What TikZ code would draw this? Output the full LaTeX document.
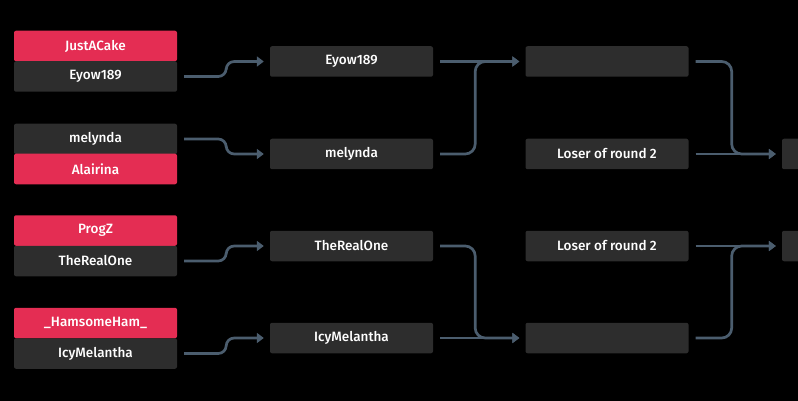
\documentclass[tikz,border=0pt]{standalone}
\usepackage{fontspec}
\setmainfont{Fira Sans}[UprightFont=* Medium]
\usetikzlibrary{arrows.meta,calc}
\definecolor{bgc}{RGB}{0,0,0}
\definecolor{redc}{RGB}{228,45,83}
\definecolor{darkc}{RGB}{45,45,45}
\definecolor{linec}{RGB}{75,93,110}
\tikzset{
  box/.style={rectangle, rounded corners=2pt, minimum width=163pt, minimum height=30.5pt, inner sep=0pt, text=white, font=\fontsize{13.5}{15}\selectfont},
  redbox/.style={box, fill=redc},
  darkbox/.style={box, fill=darkc},
  conn/.style={draw=linec, line width=2.7pt, rounded corners=8pt, -{Triangle[length=7pt,width=10pt]}},
  connm/.style={conn, rounded corners=10pt},
}
\begin{document}
\begin{tikzpicture}[x=1pt,y=-1pt]
\fill[bgc] (0,0) rectangle (798,401);
\useasboundingbox (0,0) rectangle (798,401);
\clip (0,0) rectangle (798,401);
% column 1
\node[redbox]  (a1) at (95.5,46)    {JustACake};
\node[darkbox] (a2) at (95.5,76.5)  {Eyow189};
\node[darkbox] (a3) at (95.5,139)   {melynda};
\node[redbox]  (a4) at (95.5,169)   {Alairina};
\node[redbox]  (a5) at (95.5,230.5) {ProgZ};
\node[darkbox] (a6) at (95.5,261)   {TheRealOne};
\node[redbox]  (a7) at (95.5,323)   {\_HamsomeHam\_};
\node[darkbox] (a8) at (95.5,353.5) {IcyMelantha};
% column 2
\node[darkbox] (b1) at (351.5,61.5) {Eyow189};
\node[darkbox] (b2) at (351.5,154)  {melynda};
\node[darkbox] (b3) at (351.5,246)  {TheRealOne};
\node[darkbox] (b4) at (351.5,338)  {IcyMelantha};
% column 3
\node[darkbox] (c1) at (607,61.5) {};
\node[darkbox] (c2) at (607,154)  {Loser of round 2};
\node[darkbox] (c3) at (607,246)  {Loser of round 2};
\node[darkbox] (c4) at (607,338)  {};
% column 4
\node[darkbox] (d1) at (863.5,154) {};
\node[darkbox] (d2) at (863.5,246) {};
% connectors col1 -> col2
\draw[conn] ([xshift=7pt]a2.east) -- ++(42,0) |- ([xshift=-6pt]b1.west);
\draw[conn] ([xshift=7pt]a3.east) -- ++(42,0) |- ([xshift=-6pt]b2.west);
\draw[conn] ([xshift=7pt]a6.east) -- ++(42,0) |- ([xshift=-6pt]b3.west);
\draw[conn] ([xshift=7pt]a8.east) -- ++(42,0) |- ([xshift=-6pt]b4.west);
% col2 -> col3
\draw[conn] ([xshift=7pt]b1.east) -- ([xshift=-6pt]c1.west);
\draw[connm] ([xshift=7pt]b2.east) -- ++(35,0) |- ([xshift=-6pt]c1.west);
\draw[connm] ([xshift=7pt]b3.east) -- ++(35,0) |- ([xshift=-6pt]c4.west);
\draw[conn] ([xshift=7pt]b4.east) -- ([xshift=-6pt]c4.west);
% col3 -> col4
\draw[connm] ([xshift=7pt]c1.east) -- ++(36,0) |- ([xshift=-6pt]d1.west);
\draw[conn] ([xshift=7pt]c2.east) -- ([xshift=-6pt]d1.west);
\draw[conn] ([xshift=7pt]c3.east) -- ([xshift=-6pt]d2.west);
\draw[connm] ([xshift=7pt]c4.east) -- ++(36,0) |- ([xshift=-6pt]d2.west);
\end{tikzpicture}
\end{document}
